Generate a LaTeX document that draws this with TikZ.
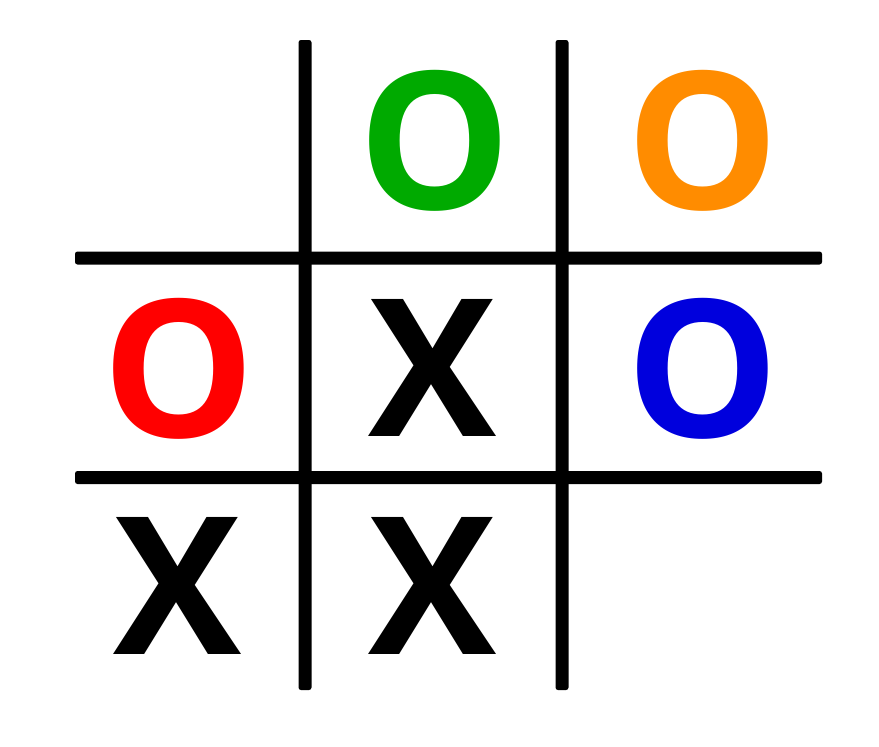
\documentclass[tikz,border=0pt]{standalone}
\usepackage{fontspec}
\setmainfont{Open Sans}
\definecolor{ogreen}{HTML}{00AA00}
\definecolor{oorange}{HTML}{FF8C00}
\definecolor{ored}{HTML}{FF0000}
\definecolor{oblue}{HTML}{0000DD}
\begin{document}
\begin{tikzpicture}[x=1pt,y=-1pt,
  gridline/.style={fill=black,rounded corners=2.5pt},
  glyph/.style={inner sep=0pt,font=\fontsize{192}{192}\selectfont\bfseries}]
\useasboundingbox (0,0) rectangle (879,747);
% grid
\fill[gridline] (298.5,40) rectangle (311.5,690);
\fill[gridline] (555.5,40) rectangle (568.5,690);
\fill[gridline] (75,251.5) rectangle (822,264.5);
\fill[gridline] (75,471) rectangle (822,484);
% marks
\node[glyph,text=ogreen] (o1) at (434.5,140.5) {O};
\node[glyph,text=oorange] (o2) at (703,140.5) {O};
\node[glyph,text=ored] (o3) at (179,368.5) {O};
\node[glyph,text=black] (x1) at (433,368) {X};
\node[glyph,text=oblue] (o4) at (703,368.5) {O};
\node[glyph,text=black] (x2) at (178,586) {X};
\node[glyph,text=black] (x3) at (433,586) {X};
\end{tikzpicture}
\end{document}
